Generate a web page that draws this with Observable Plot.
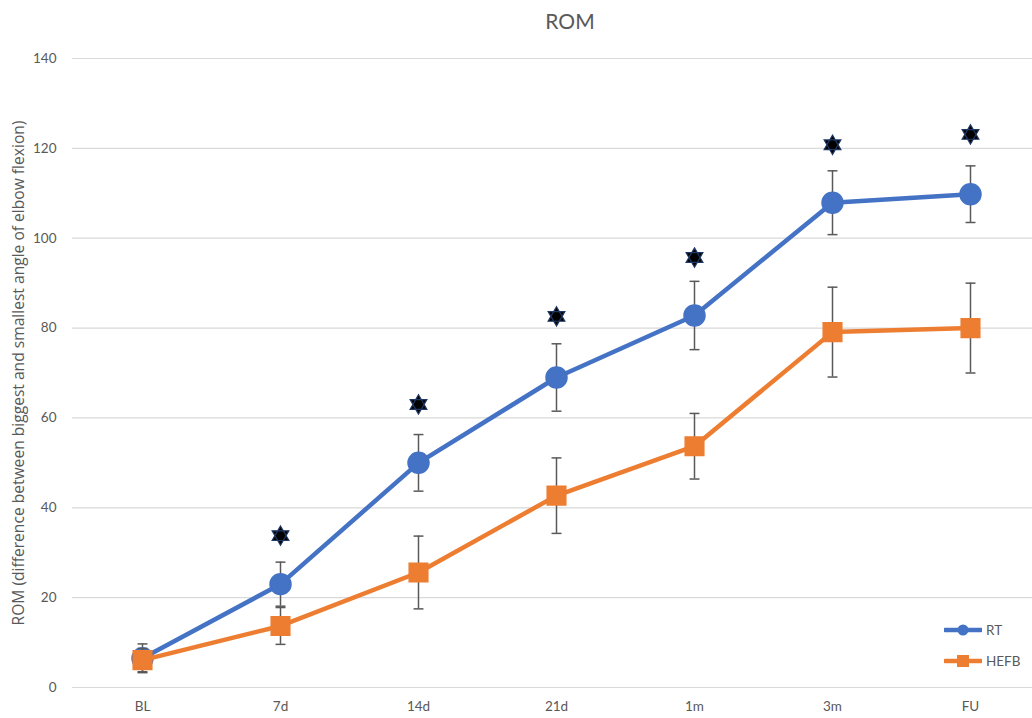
<!DOCTYPE html>
<html>
<head>
<meta charset="utf-8">
<script src="https://cdn.jsdelivr.net/npm/d3@7"></script>
<script src="https://cdn.jsdelivr.net/npm/@observablehq/plot@0.6"></script>
<style>
  body { margin: 0; background: #fff; font-family: Lato, "Open Sans", sans-serif; }
  #wrap { position: relative; width: 1032px; height: 718px; }
  #title { position: absolute; top: 8px; left: 470px; width: 200px; text-align: center; font-size: 21px; color: #595959; }
  #legend { position: absolute; left: 944px; top: 614px; font-size: 13.5px; color: #595959; }
  #legend div { display: flex; align-items: center; height: 31px; }
  #legend svg { margin-right: 4px; }
</style>
</head>
<body>
<div id="wrap">
  <div id="title">ROM</div>
  <div id="chart"></div>
  <div id="legend"></div>
</div>
<script>
const categories = ["BL", "7d", "14d", "21d", "1m", "3m", "FU"];
const rtMean = [6.5, 23, 50, 69, 82.8, 107.9, 109.8];
const rtErr = [3.2, 4.9, 6.3, 7.5, 7.6, 7.1, 6.3];
const hefbMean = [6.1, 13.7, 25.6, 42.7, 53.7, 79.1, 80];
const hefbErr = [2.6, 4.1, 8.1, 8.4, 7.3, 10, 10];
const starValues = [null, 33.8, 63, 82.6, 95.7, 120.8, 123.1];
const yTicks = [0, 20, 40, 60, 80, 100, 120, 140];

const colors = { RT: "#4472C4", HEFB: "#ED7D31" };

const rt = categories.map((c, i) => ({ cat: c, v: rtMean[i], lo: rtMean[i] - rtErr[i], hi: rtMean[i] + rtErr[i] }));
const hefb = categories.map((c, i) => ({ cat: c, v: hefbMean[i], lo: hefbMean[i] - hefbErr[i], hi: hefbMean[i] + hefbErr[i] }));
const stars = categories.map((c, i) => ({ cat: c, v: starValues[i] })).filter(d => d.v != null);

// custom symbols
const hexagram = {
  draw(ctx, size) {
    const r = Math.sqrt(size) * 0.62;
    for (let k = 0; k < 2; k++) {
      for (let j = 0; j < 3; j++) {
        const a = (j * 2 * Math.PI / 3) + (k ? Math.PI : 0) - Math.PI / 2;
        const x = r * Math.cos(a), y = r * Math.sin(a);
        if (j === 0) ctx.moveTo(x, y); else ctx.lineTo(x, y);
      }
      ctx.closePath();
    }
  }
};
const hline = {
  draw(ctx, size) {
    const w = Math.sqrt(size) / 2;
    ctx.moveTo(-w, 0); ctx.lineTo(w, 0);
  }
};

function errorMarks(data) {
  return [
    Plot.ruleX(data, { x: "cat", y1: "lo", y2: "hi", stroke: "#595959", strokeWidth: 1.5 }),
    Plot.dot(data, { x: "cat", y: "lo", symbol: hline, r: 5.6, stroke: "#595959", strokeWidth: 1.5 }),
    Plot.dot(data, { x: "cat", y: "hi", symbol: hline, r: 5.6, stroke: "#595959", strokeWidth: 1.5 })
  ];
}

const chart = Plot.plot({
  width: 1032,
  height: 718,
  marginTop: 58,
  marginBottom: 31,
  marginLeft: 72,
  marginRight: 0,
  style: { fontFamily: "Lato, 'Open Sans', sans-serif", fontSize: "13.5px", color: "#595959", background: "transparent" },
  x: { type: "point", domain: categories, range: [141, 970], padding: 0, label: null, tickSize: 0, tickPadding: 14 },
  y: { domain: [0, 140], ticks: yTicks, label: null, tickSize: 0, tickPadding: 16 },
  marks: [
    Plot.ruleY(yTicks, { stroke: "#d9d9d9", strokeWidth: 1.2 }),
    Plot.axisY({ ticks: yTicks, tickSize: 0, tickPadding: 16, label: null, fontSize: 13.5 }),
    Plot.axisX({ tickSize: 0, tickPadding: 14, label: null, fontSize: 13.5 }),
    Plot.text(["ROM (difference between biggest and smallest angle of elbow flexion)"], {
      frameAnchor: "left", textAnchor: "middle", dx: -54, rotate: -90, fontSize: 15.6, fontFamily: "'Open Sans', sans-serif", fill: "#595959", text: d => d
    }),
    Plot.line(rt, { x: "cat", y: "v", stroke: colors.RT, strokeWidth: 4.5 }),
    ...errorMarks(rt),
    Plot.dot(rt, { x: "cat", y: "v", r: 10.5, fill: colors.RT, stroke: colors.RT }),
    Plot.line(hefb, { x: "cat", y: "v", stroke: colors.HEFB, strokeWidth: 4.5 }),
    ...errorMarks(hefb),
    Plot.dot(hefb, { x: "cat", y: "v", symbol: "square", r: 10.5, fill: colors.HEFB, stroke: colors.HEFB }),
    Plot.dot(stars, { x: "cat", y: "v", symbol: hexagram, r: 8.8, fill: "#000", stroke: "#1F3864", strokeWidth: 1.2 })
  ]
});
document.getElementById("chart").appendChild(chart);

// legend
const legend = document.getElementById("legend");
[["RT", "circle"], ["HEFB", "square"]].forEach(([name, shape]) => {
  const row = document.createElement("div");
  const c = colors[name];
  const marker = shape === "circle"
    ? `<circle cx="19" cy="7" r="5.5" fill="${c}"/>`
    : `<rect x="13" y="1" width="12" height="12" fill="${c}"/>`;
  row.innerHTML = `<svg width="38" height="14"><line x1="1" x2="37" y1="7" y2="7" stroke="${c}" stroke-width="4.5" stroke-linecap="round"/>${marker}</svg><span>${name}</span>`;
  legend.appendChild(row);
});
</script>
</body>
</html>
